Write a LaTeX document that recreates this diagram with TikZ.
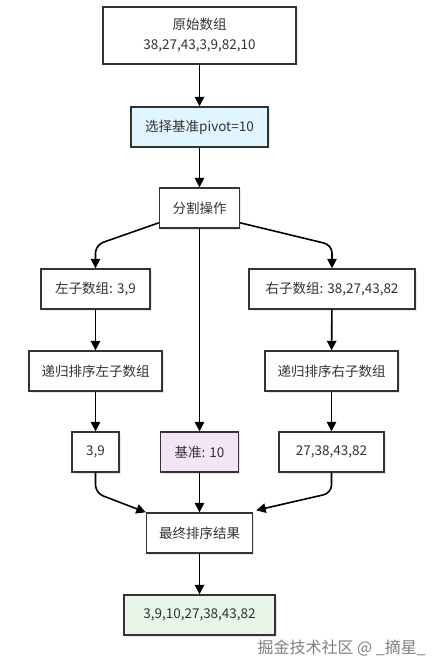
\documentclass[tikz,border=0pt]{standalone}
\usepackage{fontspec}
\setmainfont{Noto Sans CJK SC}
\usetikzlibrary{arrows.meta,shadows}
\definecolor{bordc}{HTML}{333333}
\definecolor{txtc}{HTML}{333333}
\definecolor{pivotfill}{HTML}{E1F5FE}
\definecolor{basefill}{HTML}{F3E5F5}
\definecolor{finalfill}{HTML}{E8F5E9}
\begin{document}
\begin{tikzpicture}[x=1pt,y=-1pt,
  box/.style={draw=bordc, line width=1.4pt, fill=white, text=txtc, inner sep=0pt,
    font=\fontsize{13.5}{20}\selectfont, align=center,
    drop shadow={shadow xshift=1.5pt, shadow yshift=-1.5pt, opacity=0.18}},
  conn/.style={line width=1.6pt, black, -{Triangle[width=9.5pt,length=9.5pt]}, rounded corners=8pt}]
\useasboundingbox (0,0) rectangle (439,671);
\fill[white] (0,0) rectangle (439,671);

\node[box, minimum width=193pt, minimum height=57pt] (orig) at (199.5,35.5) {原始数组\\38,27,43,3,9,82,10};
\node[box, fill=pivotfill, minimum width=137pt, minimum height=40pt] (pivot) at (199.5,127) {选择基准pivot=10};
\node[box, minimum width=80pt, minimum height=40pt] (split) at (199.5,208) {分割操作};
\node[box, minimum width=109pt, minimum height=40pt] (left) at (95.5,289) {左子数组: 3,9};
\node[box, minimum width=166pt, minimum height=40pt] (right) at (332,289) {右子数组: 38,27,43,82};
\node[box, minimum width=133pt, minimum height=40pt] (sortl) at (95.5,371) {递归排序左子数组};
\node[box, minimum width=133pt, minimum height=40pt] (sortr) at (331.5,371) {递归排序右子数组};
\node[box, minimum width=47pt, minimum height=40pt] (resl) at (95.5,452) {3,9};
\node[box, fill=basefill, minimum width=78pt, minimum height=40pt] (base) at (199.5,452) {基准: 10};
\node[box, minimum width=105pt, minimum height=40pt] (resr) at (331.5,452) {27,38,43,82};
\node[box, minimum width=106pt, minimum height=40pt] (merge) at (199.5,533) {最终排序结果};
\node[box, fill=finalfill, minimum width=151pt, minimum height=40pt] (final) at (199.5,615) {3,9,10,27,38,43,82};

\node[text=black!50, font=\fontsize{16}{18}\selectfont, anchor=east, inner sep=0pt] (wm) at (426,648) {掘金技术社区 @ \_摘星\_};

\coordinate (kl) at (95.5,245);
\coordinate (kr) at (332,245);
\coordinate (bl) at (95.5,493);
\coordinate (br) at (331.5,493);

\draw[conn] (orig) -- (pivot);
\draw[conn] (pivot) -- (split);
\draw[conn] (split.200) -- (kl) -- (left.north);
\draw[conn] (split.340) -- (kr) -- (right.north);
\draw[conn] (split.south) -- (base.north);
\draw[conn] (left) -- (sortl);
\draw[conn] (right) -- (sortr);
\draw[conn] (sortl) -- (resl);
\draw[conn] (sortr) -- (resr);
\draw[conn] (resl.south) -- (bl) -- (merge.north west);
\draw[conn] (resr.south) -- (br) -- ([xshift=3pt,yshift=2pt]merge.north east);
\draw[conn] (base) -- (merge);
\draw[conn] (merge) -- (final);
\end{tikzpicture}
\end{document}
